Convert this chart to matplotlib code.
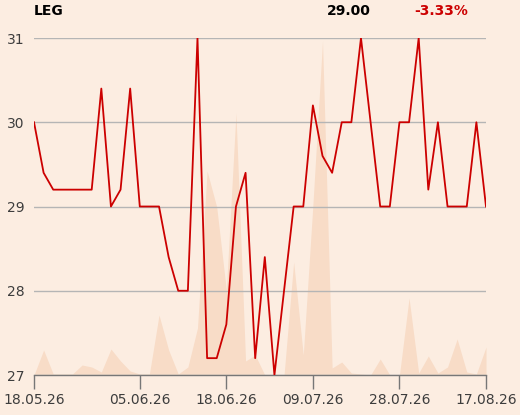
import matplotlib
matplotlib.use("Agg")
import matplotlib.pyplot as plt

# ---- data ----
ticker = "LEG"
last_price = "29.00"
change_pct = "-3.33%"

prices = [30.0, 29.4, 29.2, 29.2, 29.2, 29.2, 29.2, 30.4, 29.0, 29.2,
          30.4, 29.0, 29.0, 29.0, 28.4, 28.0, 28.0, 31.0, 27.2, 27.2,
          27.6, 29.0, 29.4, 27.2, 28.4, 27.0, 28.0, 29.0, 29.0, 30.2,
          29.6, 29.4, 30.0, 30.0, 31.0, 30.0, 29.0, 29.0, 30.0, 30.0,
          31.0, 29.2, 30.0, 29.0, 29.0, 29.0, 30.0, 29.0]

volumes = [0, 250, 10, 10, 10, 100, 80, 30, 260, 140,
           40, 10, 10, 600, 250, 10, 80, 470, 2040, 1680,
           850, 2620, 140, 200, 0, 0, 0, 1130, 200, 1700,
           3340, 70, 130, 20, 10, 0, 160, 0, 0, 770,
           20, 190, 20, 80, 360, 30, 10, 280]

tick_positions = [0, 11, 20, 29, 38, 47]
tick_labels = ["18.05.26", "05.06.26", "18.06.26", "09.07.26", "28.07.26", "17.08.26"]
y_ticks = [27, 28, 29, 30, 31]

# ---- style ----
bg = "#FCEDE1"
fill_col = "#F8DCC7"
red = "#CC0000"
grid_col = "#B5B5B5"
text_col = "#3d3d3d"

W, H = 520, 415
fig = plt.figure(figsize=(W / 100, H / 100), dpi=100, facecolor=bg)
axv = fig.add_axes([34 / W, 1 - 375 / H, (486 - 34) / W, (375 - 38) / H])
axv.set_facecolor(bg)
axp = axv.twinx()
axp.patch.set_visible(False)

x = list(range(len(prices)))

axv.fill_between(x, 0, volumes, color=fill_col, linewidth=0)
axv.set_ylim(0, 3370)
axv.set_xlim(0, len(prices) - 1)
axv.yaxis.set_visible(False)
for s in ["left", "right", "top"]:
    axv.spines[s].set_visible(False)
axv.spines["bottom"].set_color("#777777")
axv.spines["bottom"].set_linewidth(1.0)
axv.set_xticks(tick_positions)
axv.set_xticklabels(tick_labels)
axv.tick_params(axis="x", direction="out", length=10, width=1.0, color="#777777",
                labelsize=10, labelcolor=text_col, pad=3)

axp.plot(x, prices, color=red, linewidth=1.3, zorder=3)
axp.set_ylim(27, 31)
axp.set_yticks(y_ticks)
axp.yaxis.tick_left()
axp.tick_params(axis="y", length=0, labelsize=10, labelcolor=text_col, pad=7)
axp.grid(axis="y", color=grid_col, linewidth=1.0)
for s in ["left", "right", "top", "bottom"]:
    axp.spines[s].set_visible(False)
axp.tick_params(axis="x", bottom=False, labelbottom=False)

fig.text(34 / W, 1 - 15 / H, ticker, fontsize=10, fontweight="bold", color="black",
         ha="left", va="baseline")
fig.text(348.5 / W, 1 - 15 / H, last_price, fontsize=10, fontweight="bold", color="black",
         ha="center", va="baseline")
fig.text(441.5 / W, 1 - 15 / H, change_pct, fontsize=10, fontweight="bold", color=red,
         ha="center", va="baseline")

fig.savefig("out.png", dpi=100, facecolor=bg)
